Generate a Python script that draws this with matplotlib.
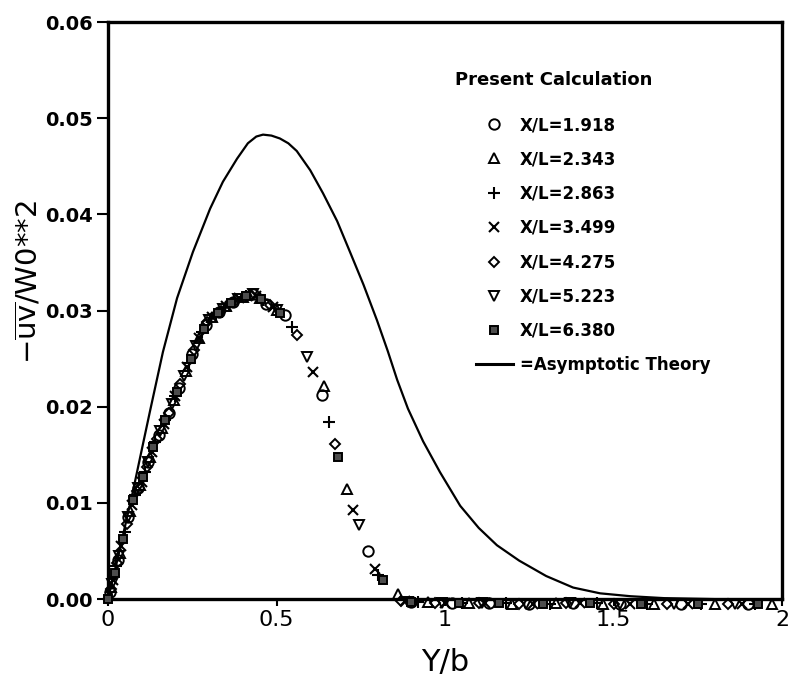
import matplotlib
matplotlib.use("Agg")
import matplotlib.pyplot as plt
from matplotlib.lines import Line2D

plt.rcParams['font.family'] = ['DejaVu Sans']
plt.rcParams['mathtext.fontset'] = 'dejavusans'

# ---------------- data ----------------
series_labels = ["X/L=1.918", "X/L=2.343", "X/L=2.863", "X/L=3.499",
                 "X/L=4.275", "X/L=5.223", "X/L=6.380"]

x_1918 = [0.005, 0.03, 0.06, 0.09, 0.12, 0.15, 0.18, 0.21, 0.25, 0.29, 0.33, 0.37, 0.43, 0.47, 0.525,
          0.635, 0.77, 0.90, 1.02, 1.13, 1.25, 1.38, 1.52, 1.70, 1.90]
y_1918 = [0.0007, 0.0041, 0.0085, 0.0116, 0.0143, 0.0171, 0.0194, 0.0220, 0.0255, 0.0285, 0.0299, 0.0309,
          0.0317, 0.0307, 0.0295, 0.0212, 0.0050, -0.0003, -0.0004, -0.0004, -0.0005, -0.0004, -0.0005,
          -0.0005, -0.0005]

x_2343 = [0.01, 0.035, 0.065, 0.095, 0.125, 0.16, 0.195, 0.23, 0.27, 0.31, 0.35, 0.40, 0.45, 0.50,
          0.64, 0.709, 0.86, 0.95, 1.07, 1.20, 1.33, 1.47, 1.62, 1.80, 1.97]
y_2343 = [0.0013, 0.0048, 0.0092, 0.0119, 0.0148, 0.0178, 0.0207, 0.0237, 0.0271, 0.0293, 0.0305, 0.0314,
          0.0313, 0.0301, 0.0222, 0.0115, 0.0005, -0.0003, -0.0004, -0.0005, -0.0004, -0.0005, -0.0005,
          -0.0005, -0.0005]

x_2863 = [0.0, 0.025, 0.05, 0.08, 0.11, 0.14, 0.17, 0.20, 0.24, 0.28, 0.32, 0.36, 0.41, 0.46, 0.546,
          0.656, 0.80, 0.92, 1.05, 1.18, 1.31, 1.45, 1.60, 1.76, 1.92]
y_2863 = [0.0, 0.0034, 0.0070, 0.0108, 0.0132, 0.0163, 0.0186, 0.0211, 0.0246, 0.0278, 0.0296, 0.0307,
          0.0315, 0.0311, 0.0283, 0.0184, 0.0025, -0.0003, -0.0004, -0.0004, -0.0005, -0.0004, -0.0005,
          -0.0005, -0.0005]

x_3499 = [0.015, 0.04, 0.07, 0.10, 0.13, 0.165, 0.20, 0.235, 0.27, 0.31, 0.35, 0.39, 0.44, 0.49,
          0.608, 0.727, 0.792, 0.88, 1.00, 1.12, 1.26, 1.40, 1.55, 1.72, 1.88]
y_3499 = [0.0020, 0.0055, 0.0098, 0.0122, 0.0153, 0.0182, 0.0211, 0.0241, 0.0271, 0.0293, 0.0305, 0.0313,
          0.0315, 0.0304, 0.0236, 0.0093, 0.0031, -0.0002, -0.0004, -0.0004, -0.0005, -0.0004, -0.0005,
          -0.0005, -0.0005]

x_4275 = [0.008, 0.028, 0.055, 0.085, 0.115, 0.145, 0.18, 0.215, 0.255, 0.295, 0.335, 0.38, 0.425, 0.48,
          0.56, 0.674, 0.87, 0.97, 1.10, 1.22, 1.36, 1.50, 1.66, 1.84]
y_4275 = [0.0010, 0.0038, 0.0078, 0.0112, 0.0137, 0.0167, 0.0194, 0.0224, 0.0259, 0.0288, 0.0300, 0.0311,
          0.0316, 0.0306, 0.0275, 0.0161, -0.0002, -0.0004, -0.0004, -0.0005, -0.0004, -0.0005, -0.0005,
          -0.0005]

x_5223 = [0.012, 0.033, 0.06, 0.09, 0.12, 0.155, 0.19, 0.225, 0.26, 0.30, 0.34, 0.385, 0.43, 0.50,
          0.59, 0.745, 0.89, 0.99, 1.11, 1.24, 1.37, 1.52, 1.68, 1.86]
y_5223 = [0.0016, 0.0045, 0.0085, 0.0116, 0.0143, 0.0175, 0.0203, 0.0232, 0.0263, 0.0290, 0.0302, 0.0312,
          0.0317, 0.0301, 0.0252, 0.0077, -0.0003, -0.0004, -0.0004, -0.0005, -0.0004, -0.0005, -0.0005,
          -0.0005]

x_6380 = [0.0, 0.02, 0.045, 0.075, 0.105, 0.135, 0.17, 0.205, 0.245, 0.285, 0.325, 0.365, 0.41, 0.455,
          0.51, 0.683, 0.816, 0.90, 1.04, 1.16, 1.29, 1.43, 1.58, 1.75, 1.93]
y_6380 = [0.0, 0.0027, 0.0062, 0.0103, 0.0127, 0.0158, 0.0186, 0.0215, 0.0250, 0.0281, 0.0297, 0.0308,
          0.0315, 0.0312, 0.0298, 0.0148, 0.0020, -0.0003, -0.0004, -0.0004, -0.0005, -0.0004, -0.0005,
          -0.0005, -0.0005]

theory_x = [0.0, 0.03, 0.074, 0.10, 0.125, 0.163, 0.205, 0.252, 0.303, 0.341, 0.383, 0.415, 0.44, 0.46,
            0.485, 0.51, 0.535, 0.56, 0.60, 0.638, 0.68, 0.718, 0.758, 0.798, 0.83, 0.858, 0.89, 0.935,
            0.985, 1.045, 1.10, 1.154, 1.22, 1.30, 1.38, 1.46, 1.55, 1.65, 1.80, 2.0]
theory_y = [0.0, 0.0044, 0.0112, 0.0155, 0.0196, 0.0257, 0.0313, 0.0361, 0.0406, 0.0434, 0.0458, 0.0474,
            0.0481, 0.0483, 0.0482, 0.0479, 0.0474, 0.0466, 0.0446, 0.0422, 0.0393, 0.0361, 0.0327,
            0.0290, 0.0258, 0.0228, 0.0198, 0.0164, 0.0132, 0.0097, 0.0074, 0.0056, 0.0040, 0.0024,
            0.0012, 0.0006, 0.0003, 0.0001, 0.0, 0.0]

x_ticks = [0, 0.5, 1, 1.5, 2]
x_tick_labels = ["0", "0.5", "1", "1.5", "2"]
y_ticks = [0.00, 0.01, 0.02, 0.03, 0.04, 0.05, 0.06]
y_tick_labels = ["0.00", "0.01", "0.02", "0.03", "0.04", "0.05", "0.06"]

# ---------------- figure ----------------
fig = plt.figure(figsize=(7.94, 6.91), dpi=100)
ax = fig.add_axes([0.136, 0.133, 0.849, 0.835])

xs = [x_1918, x_2343, x_2863, x_3499, x_4275, x_5223, x_6380]
ys = [y_1918, y_2343, y_2863, y_3499, y_4275, y_5223, y_6380]
styles = [
    dict(marker='o', ms=7.5, mfc='none', mec='black', mew=1.4),
    dict(marker='^', ms=7.5, mfc='none', mec='black', mew=1.4),
    dict(marker='+', ms=8, mec='black', mew=1.5),
    dict(marker='x', ms=7, mec='black', mew=1.5),
    dict(marker='D', ms=5.5, mfc='none', mec='black', mew=1.4),
    dict(marker='v', ms=7.5, mfc='none', mec='black', mew=1.4),
    dict(marker='s', ms=5.5, mfc='0.3', mec='black', mew=1.4),
]

handles = []
for xv, yv, st, lab in zip(xs, ys, styles, series_labels):
    ax.plot(xv, yv, linestyle='none', color='black', clip_on=False, zorder=3, **st)
    handles.append(Line2D([], [], linestyle='none', color='black', **st))

ax.plot(theory_x, theory_y, color='black', lw=1.6, zorder=2, solid_joinstyle='round')
handles.append(Line2D([], [], color='black', lw=2.2))
labels = series_labels + ["=Asymptotic Theory"]

ax.set_xlim(0, 2)
ax.set_ylim(0, 0.06)
ax.set_xticks(x_ticks)
ax.set_xticklabels(x_tick_labels, fontsize=16)
ax.set_yticks(y_ticks)
ax.set_yticklabels(y_tick_labels, fontsize=14, fontweight='bold')
ax.tick_params(axis='x', direction='out', width=1.5, length=5, pad=3)
ax.tick_params(axis='y', direction='out', width=1.5, length=8, pad=3)

for sp in ax.spines.values():
    sp.set_linewidth(2.4)

ax.set_xlabel("Y/b", fontsize=22)
ax.xaxis.set_label_coords(0.5, -0.085)
ax.set_ylabel(r"$-\overline{\mathrm{uv}}$/W0**2", fontsize=21)
ax.yaxis.set_label_coords(-0.095, 0.55)

fig.text(455 / 794, 1 - 80 / 691, "Present Calculation", fontsize=13, fontweight='bold',
         ha='left', va='center')

leg = ax.legend(handles, labels, loc='upper left', bbox_to_anchor=(476 / 794, 1 - 116 / 691),
                bbox_transform=fig.transFigure, frameon=False,
                prop={'weight': 'bold', 'size': 12}, labelspacing=0.98,
                handlelength=2.2, handletextpad=0.45, borderpad=0, borderaxespad=0)

fig.savefig("out.png", dpi=100)
